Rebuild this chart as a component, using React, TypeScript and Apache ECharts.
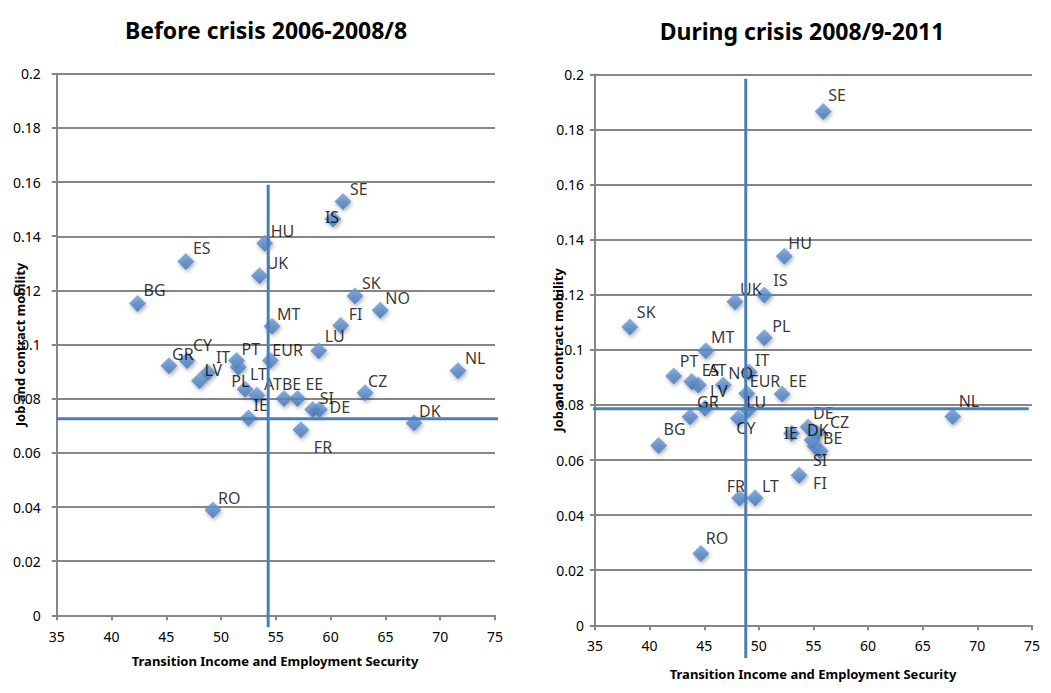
import React, { useEffect, useRef } from "react";
import * as echarts from "echarts";

// ---- Data ----
const leftCountries = ["SE","IS","HU","ES","UK","BG","SK","NO","FI","MT","LU","NL","CY","GR","IT","LV","PT","EUR","PL","LT","AT","BE","EE","SI","DE","IE","CZ","DK","FR","RO"];
const leftSecurity = [61.13,60.21,53.98,46.79,53.51,42.38,62.22,64.53,60.92,54.65,58.91,71.62,46.89,45.25,48.8,48.03,51.41,54.5,51.57,52.19,53.27,55.74,56.97,58.36,58.98,52.5,63.14,67.61,57.28,49.26];
const leftMobility = [0.1528,0.1464,0.1374,0.1307,0.1254,0.1152,0.1179,0.1127,0.107,0.1068,0.0977,0.0903,0.0941,0.0922,0.0897,0.0866,0.0941,0.0941,0.0916,0.0835,0.0813,0.0801,0.0801,0.076,0.076,0.0729,0.0822,0.071,0.0685,0.0389];
const leftMeanSecurity = 54.3;
const leftMeanMobility = 0.0726;

const rightCountries = ["SE","HU","IS","UK","PL","SK","MT","PT","ES","AT","NO","IT","EUR","EE","LV","GR","LU","CY","BG","NL","DE","CZ","DK","IE","BE","SI","FI","FR","LT","RO"];
const rightSecurity = [55.89,52.33,50.5,47.81,50.49,38.19,45.15,42.21,43.85,44.46,46.74,49.1,48.89,52.12,45.07,43.7,49.03,48.12,40.82,67.74,54.5,55.32,54.86,53.0,55.14,55.6,53.68,48.24,49.65,44.69];
const rightMobility = [0.1866,0.134,0.1199,0.1175,0.1044,0.1083,0.0997,0.0905,0.0885,0.0873,0.0873,0.092,0.0842,0.084,0.0788,0.0757,0.0782,0.0752,0.0653,0.0758,0.072,0.0698,0.0673,0.0697,0.0651,0.0633,0.0545,0.0462,0.0462,0.0261];
const rightMeanSecurity = 48.8;
const rightMeanMobility = 0.0786;

const xTicks = { min: 35, max: 75, step: 5 };
const yTicks = { min: 0, max: 0.2, step: 0.02 };

const titles = ["Before crisis 2006-2008/8", "During crisis 2008/9-2011"];
const xTitle = "Transition Income and Employment Security";
const yTitle = "Job and contract mobility";

// ---- Layout: label nudges (px, from marker centre to label's left/middle) ----
const leftNudge: Record<string, [number, number]> = {
  SE:[7,-13], IS:[-8,-2], HU:[6,-12], ES:[7,-13], UK:[7,-13], BG:[6,-13], SK:[7,-13], NO:[5,-12],
  FI:[8,-12], MT:[5,-12], LU:[6,-15], NL:[7,-13], CY:[6,-16], GR:[3,-12], IT:[8,-15], LV:[5,-11],
  PT:[5,-12], EUR:[2,-11], PL:[-7,14], LT:[5,-15], AT:[7,-11], BE:[-2,-14], EE:[8,-14], SI:[7,-12],
  DE:[10,-3], IE:[5,-13], CZ:[3,-12], DK:[5,-12], FR:[13,17], RO:[5,-12],
};
const rightNudge: Record<string, [number, number]> = {
  SE:[5,-16], HU:[4,-13], IS:[9,-15], UK:[5,-13], PL:[8,-12], SK:[7,-15], MT:[5,-14], PT:[6,-15],
  ES:[10,-12], AT:[10,-15], NO:[5,-12], IT:[6,-12], EUR:[3,-12], EE:[7,-13], LV:[5,-17], GR:[7,-15],
  LU:[-2,-8], CY:[-2,10], BG:[5,-16], NL:[6,-16], DE:[5,-14], CZ:[13,-11], DK:[-5,-10], IE:[-8,0],
  BE:[8,-8], SI:[-7,9], FI:[14,8], FR:[-13,-12], LT:[7,-12], RO:[5,-15],
};

const FONT = '"Noto Sans", "DejaVu Sans", sans-serif';
const GRID_GREY = "#868686";
const BLUE = "#4A7EBB";

function buildPoints(names: string[], xs: number[], ys: number[], nudge: Record<string, [number, number]>) {
  return names.map((n, i) => ({
    name: n,
    value: [xs[i], ys[i]],
    label: { offset: nudge[n] || [7, -13] },
  }));
}

function axisPair(i: number, yLabelMargin: number, xLabelMargin: number) {
  const x = {
    type: "value",
    gridIndex: i,
    min: xTicks.min,
    max: xTicks.max,
    interval: xTicks.step,
    axisLine: { show: true, onZero: false, lineStyle: { color: GRID_GREY, width: 2 } },
    axisTick: { show: true, length: 5, lineStyle: { color: GRID_GREY, width: 2 } },
    splitLine: { show: false },
    axisLabel: { margin: xLabelMargin, fontSize: 14, color: "#000", fontFamily: FONT },
  };
  const y = {
    type: "value",
    gridIndex: i,
    min: yTicks.min,
    max: yTicks.max,
    interval: yTicks.step,
    axisLine: { show: true, onZero: false, lineStyle: { color: GRID_GREY, width: 2 } },
    axisTick: { show: true, length: 5, lineStyle: { color: GRID_GREY, width: 2 } },
    splitLine: { show: true, lineStyle: { color: GRID_GREY, width: 2 } },
    axisLabel: {
      margin: yLabelMargin,
      fontSize: 14,
      color: "#000",
      fontFamily: FONT,
      formatter: (v: number) => String(parseFloat(v.toFixed(2))),
    },
  };
  return { x, y };
}

function scatterSeries(idx: number, data: any[]) {
  return {
    type: "scatter",
    xAxisIndex: idx,
    yAxisIndex: idx,
    symbol: "diamond",
    symbolSize: 17,
    z: 2,
    itemStyle: {
      color: new echarts.graphic.LinearGradient(0, 0, 0, 1, [
        { offset: 0, color: "#6F9DDA" },
        { offset: 1, color: "#3F74B6" },
      ]),
      shadowBlur: 4,
      shadowColor: "rgba(0,0,0,0.4)",
      shadowOffsetX: 1,
      shadowOffsetY: 2,
    },
    label: {
      show: true,
      formatter: "{b}",
      position: "inside",
      align: "left",
      verticalAlign: "middle",
      fontSize: 16,
      color: "#000",
      fontFamily: FONT,
    },
    emphasis: { disabled: true },
    data,
  };
}

function refLine(idx: number, pts: number[][]) {
  return {
    type: "line",
    xAxisIndex: idx,
    yAxisIndex: idx,
    symbol: "none",
    clip: false,
    z: 3,
    lineStyle: { color: BLUE, width: 3 },
    emphasis: { disabled: true },
    data: pts,
  };
}

export default function App() {
  const ref = useRef<HTMLDivElement>(null);
  useEffect(() => {
    if (!ref.current) return;
    const chart = echarts.init(ref.current, undefined, { renderer: "svg" });
    const a0 = axisPair(0, 16, 14);
    const a1 = axisPair(1, 11, 13);
    const titleStyle = (text: string) => ({
      text,
      align: "center",
      verticalAlign: "middle",
      fontSize: 23,
      fontWeight: "bold",
      fontFamily: FONT,
      fill: "#000",
    });
    const axisTitleStyle = (text: string) => ({
      text,
      align: "center",
      verticalAlign: "middle",
      fontSize: 13,
      fontWeight: "bold",
      fontFamily: FONT,
      fill: "#000",
    });
    chart.setOption({
      animation: false,
      backgroundColor: "#fff",
      grid: [
        { left: 56.7, top: 73.8, width: 438.3, height: 541.5 },
        { left: 595, top: 74.5, width: 437, height: 550.8 },
      ],
      xAxis: [a0.x, a1.x],
      yAxis: [a0.y, a1.y],
      series: [
        scatterSeries(0, buildPoints(leftCountries, leftSecurity, leftMobility, leftNudge)),
        scatterSeries(1, buildPoints(rightCountries, rightSecurity, rightMobility, rightNudge)),
        refLine(0, [[leftMeanSecurity, -0.0044], [leftMeanSecurity, 0.159]]),
        refLine(0, [[35, leftMeanMobility], [77.8, leftMeanMobility]]),
        refLine(1, [[rightMeanSecurity, -0.0119], [rightMeanSecurity, 0.1985]]),
        refLine(1, [[28.6, rightMeanMobility], [74.7, rightMeanMobility]]),
      ],
      graphic: [
        { type: "text", x: 266, y: 30, style: titleStyle(titles[0]) },
        { type: "text", x: 802, y: 31, style: titleStyle(titles[1]) },
        { type: "text", x: 275, y: 661, style: axisTitleStyle(xTitle) },
        { type: "text", x: 813, y: 674, style: axisTitleStyle(xTitle) },
        { type: "text", x: 20, y: 344.5, rotation: Math.PI / 2, style: axisTitleStyle(yTitle) },
        { type: "text", x: 558, y: 350, rotation: Math.PI / 2, style: axisTitleStyle(yTitle) },
      ],
    });
    return () => chart.dispose();
  }, []);
  return (
    <div
      ref={ref}
      style={{ position: "absolute", left: 0, top: 0, width: 1051, height: 693, background: "#fff" }}
    />
  );
}
